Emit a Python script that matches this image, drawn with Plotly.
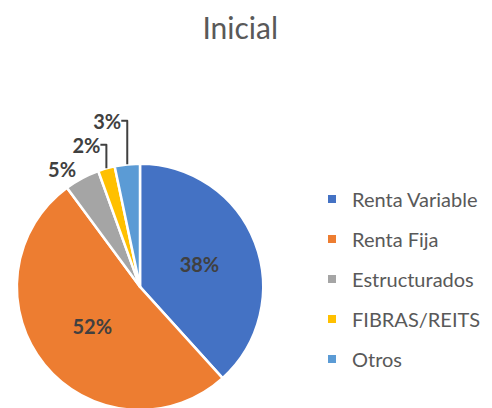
import plotly.graph_objects as go

categories = ["Renta Variable", "Renta Fija", "Estructurados", "FIBRAS/REITS", "Otros"]
values = [38.3, 51.6, 4.6, 2.2, 3.3]
colors = ["#4472C4", "#ED7D31", "#A5A5A5", "#FFC000", "#5B9BD5"]
text_positions = ["inside", "inside", "outside", "outside", "outside"]
title_text = "Inicial"

W, H = 492, 408
FONT = "Lato"

fig = go.Figure()
fig.add_trace(go.Pie(
    labels=categories,
    values=values,
    sort=False,
    direction="clockwise",
    rotation=0,
    marker=dict(colors=colors, line=dict(color="white", width=2.5)),
    texttemplate="%{percent:.0%}",
    textposition=text_positions,
    textfont=dict(family=FONT, size=20, color="#404040", weight="bold"),
    insidetextorientation="horizontal",
    showlegend=False,
    hoverinfo="label+percent",
    domain=dict(x=[8 / W, 256 / W], y=[0, 1 - 158 / H]),
))

for cat, col in zip(categories, colors):
    fig.add_trace(go.Scatter(
        x=[None], y=[None], mode="markers", name=cat,
        marker=dict(symbol="square", size=8, color=col),
        legendgroup=cat, showlegend=True,
    ))

fig.update_layout(
    width=W, height=H,
    margin=dict(l=0, r=0, t=0, b=0),
    paper_bgcolor="white", plot_bgcolor="white",
    font=dict(family=FONT, color="#595959"),
    title=dict(text=title_text, x=0.472, xanchor="center", y=1 - 20 / H, yanchor="middle",
               font=dict(family=FONT, size=30, color="#595959")),
    xaxis=dict(visible=False), yaxis=dict(visible=False),
    legend=dict(x=304 / W, y=1 - 174 / H, xanchor="left", yanchor="top",
                font=dict(family=FONT, size=20, color="#595959"),
                tracegroupgap=11, itemwidth=30, bgcolor="rgba(0,0,0,0)"),
)

fig.write_html("out.html")
